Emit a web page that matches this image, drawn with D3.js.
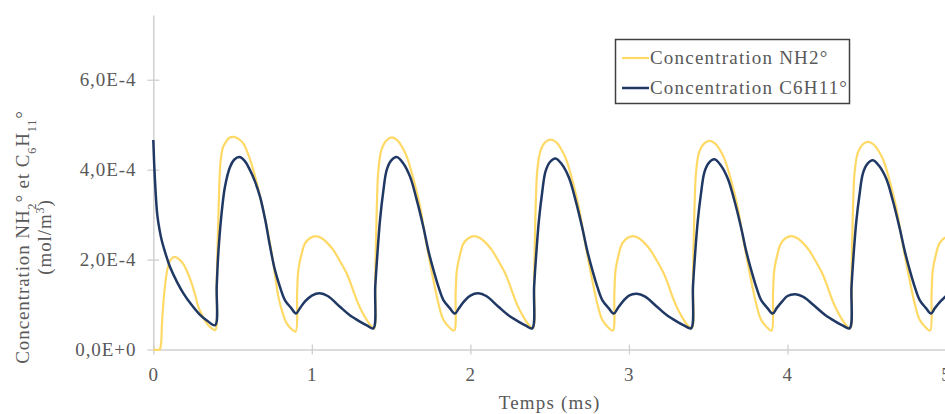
<!DOCTYPE html>
<html><head><meta charset="utf-8">
<script src="https://cdnjs.cloudflare.com/ajax/libs/d3/7.8.5/d3.min.js"></script>
<style>
html,body{margin:0;padding:0;background:#fff;overflow:hidden;}
svg{display:block;font-family:"Liberation Serif","Times New Roman",serif;}
</style></head>
<body><svg id="c" width="945" height="414"></svg>
<script>
// ---- data (concentrations in units of 1e-4 mol/m3, time in ms) ----
const seriesNames = ["Concentration NH2°", "Concentration C6H11°"];
const xTicks = [0, 1, 2, 3, 4, 5];
const yTicks = [0, 2e-4, 4e-4, 6e-4];
const yTickLabels = ["0,0E+0", "2,0E-4", "4,0E-4", "6,0E-4"];

const nh2Time = [
 0, 0.04, 0.048, 0.055, 0.065, 0.075, 0.09, 0.11, 0.137, 0.165, 0.19, 0.22, 0.242, 0.265, 0.284, 0.31, 0.337, 0.365, 0.39,
 0.40, 0.41, 0.425, 0.44, 0.46, 0.48, 0.505, 0.535, 0.568, 0.60, 0.631, 0.66, 0.694, 0.72, 0.747, 0.77, 0.789, 0.815, 0.842, 0.87, 0.897,
 0.907, 0.915, 0.935, 0.957, 0.99, 1.025, 1.06, 1.10, 1.136, 1.18, 1.22, 1.25, 1.283, 1.315, 1.346, 1.37, 1.392,
 1.40, 1.41, 1.42, 1.44, 1.47, 1.504, 1.54, 1.57, 1.60, 1.64, 1.683, 1.72, 1.767, 1.80, 1.83, 1.865, 1.897,
 1.907, 1.915, 1.935, 1.957, 1.99, 2.025, 2.06, 2.10, 2.136, 2.18, 2.22, 2.25, 2.283, 2.315, 2.346, 2.37, 2.394,
 2.402, 2.412, 2.422, 2.442, 2.472, 2.506, 2.542, 2.572, 2.602, 2.642, 2.685, 2.722, 2.769, 2.802, 2.832, 2.867, 2.898,
 2.908, 2.916, 2.936, 2.958, 2.99, 3.025, 3.06, 3.10, 3.136, 3.18, 3.22, 3.25, 3.283, 3.315, 3.346, 3.37, 3.396,
 3.404, 3.414, 3.424, 3.444, 3.474, 3.508, 3.544, 3.574, 3.604, 3.644, 3.687, 3.724, 3.771, 3.804, 3.834, 3.869, 3.899,
 3.909, 3.917, 3.937, 3.959, 3.99, 4.025, 4.06, 4.10, 4.136, 4.18, 4.22, 4.25, 4.283, 4.315, 4.346, 4.37, 4.396,
 4.404, 4.414, 4.424, 4.444, 4.474, 4.508, 4.544, 4.574, 4.604, 4.644, 4.687, 4.724, 4.771, 4.804, 4.834, 4.869, 4.899,
 4.909, 4.917, 4.937, 4.959, 4.99, 5.0
];
const nh2Value = [
 0, 0, 0.1, 0.6, 1.1, 1.45, 1.8, 2.0, 2.06, 2.0, 1.9, 1.68, 1.47, 1.2, 0.95, 0.75, 0.58, 0.48, 0.43,
 1.5, 2.88, 4.21, 4.5, 4.63, 4.71, 4.73, 4.69, 4.58, 4.33, 3.99, 3.6, 3.10, 2.65, 2.14, 1.6, 1.17, 0.82, 0.58, 0.46, 0.40,
 1.25, 1.77, 2.12, 2.36, 2.48, 2.52, 2.48, 2.36, 2.21, 1.95, 1.69, 1.42, 1.10, 0.85, 0.66, 0.54, 0.47,
 1.6, 3.2, 4.0, 4.45, 4.65, 4.72, 4.65, 4.5, 4.28, 3.8, 3.17, 2.4, 1.54, 1.0, 0.66, 0.5, 0.42,
 1.25, 1.77, 2.12, 2.36, 2.48, 2.52, 2.48, 2.36, 2.21, 1.95, 1.69, 1.42, 1.10, 0.85, 0.66, 0.54, 0.47,
 1.6, 3.2, 3.98, 4.42, 4.61, 4.67, 4.61, 4.46, 4.25, 3.78, 3.15, 2.4, 1.54, 1.0, 0.66, 0.5, 0.42,
 1.25, 1.77, 2.12, 2.36, 2.48, 2.52, 2.48, 2.36, 2.21, 1.95, 1.69, 1.42, 1.10, 0.85, 0.66, 0.54, 0.47,
 1.6, 3.2, 3.97, 4.4, 4.58, 4.64, 4.58, 4.44, 4.23, 3.77, 3.15, 2.4, 1.54, 1.0, 0.66, 0.5, 0.42,
 1.25, 1.77, 2.12, 2.36, 2.48, 2.52, 2.48, 2.36, 2.21, 1.95, 1.69, 1.42, 1.10, 0.85, 0.66, 0.54, 0.47,
 1.6, 3.2, 3.96, 4.38, 4.56, 4.62, 4.56, 4.42, 4.22, 3.76, 3.14, 2.4, 1.54, 1.0, 0.66, 0.5, 0.42,
 1.25, 1.77, 2.12, 2.36, 2.48, 2.49
];

const c6Time = [
 0, 0.01, 0.025, 0.04, 0.053, 0.08, 0.105, 0.15, 0.19, 0.24, 0.295, 0.34, 0.39,
 0.40, 0.41, 0.43, 0.452, 0.484, 0.51, 0.543, 0.575, 0.61, 0.64, 0.673, 0.705, 0.736, 0.767, 0.80, 0.83, 0.87, 0.90,
 0.925, 0.96, 1.0, 1.05, 1.10, 1.177, 1.24, 1.303, 1.35, 1.388,
 1.40, 1.415, 1.43, 1.45, 1.472, 1.50, 1.535, 1.575, 1.62, 1.66, 1.703, 1.735, 1.767, 1.80, 1.83, 1.87, 1.903,
 1.928, 1.963, 2.0, 2.05, 2.10, 2.177, 2.24, 2.303, 2.35, 2.39,
 2.402, 2.417, 2.432, 2.452, 2.474, 2.502, 2.537, 2.577, 2.622, 2.662, 2.705, 2.737, 2.769, 2.802, 2.832, 2.872, 2.905,
 2.93, 2.965, 3.0, 3.05, 3.10, 3.177, 3.24, 3.303, 3.35, 3.392,
 3.404, 3.419, 3.434, 3.454, 3.476, 3.504, 3.539, 3.579, 3.624, 3.664, 3.707, 3.739, 3.771, 3.804, 3.834, 3.874, 3.907,
 3.932, 3.967, 4.0, 4.05, 4.10, 4.177, 4.24, 4.303, 4.35, 4.392,
 4.404, 4.419, 4.434, 4.454, 4.476, 4.504, 4.539, 4.579, 4.624, 4.664, 4.707, 4.739, 4.771, 4.804, 4.834, 4.874, 4.905,
 4.93, 4.965, 5.0
];
const c6Value = [
 4.66, 3.8, 3.0, 2.65, 2.43, 2.1, 1.84, 1.5, 1.25, 1.0, 0.77, 0.64, 0.54,
 1.4, 2.14, 3.0, 3.62, 4.06, 4.22, 4.28, 4.2, 3.99, 3.75, 3.4, 2.9, 2.3, 1.77, 1.38, 1.10, 0.92, 0.80,
 0.92, 1.08, 1.20, 1.25, 1.19, 0.95, 0.76, 0.62, 0.53, 0.47,
 1.4, 2.2, 2.88, 3.5, 3.99, 4.2, 4.28, 4.15, 3.84, 3.35, 2.73, 2.2, 1.77, 1.38, 1.10, 0.92, 0.80,
 0.92, 1.08, 1.20, 1.25, 1.19, 0.95, 0.76, 0.62, 0.53, 0.47,
 1.4, 2.2, 2.86, 3.47, 3.96, 4.17, 4.25, 4.12, 3.82, 3.34, 2.72, 2.2, 1.77, 1.38, 1.10, 0.92, 0.80,
 0.92, 1.08, 1.20, 1.24, 1.18, 0.95, 0.76, 0.62, 0.53, 0.47,
 1.4, 2.2, 2.85, 3.45, 3.94, 4.15, 4.23, 4.1, 3.8, 3.33, 2.72, 2.2, 1.77, 1.38, 1.10, 0.92, 0.80,
 0.92, 1.07, 1.19, 1.23, 1.17, 0.95, 0.76, 0.62, 0.53, 0.47,
 1.4, 2.2, 2.84, 3.43, 3.92, 4.13, 4.21, 4.08, 3.79, 3.32, 2.71, 2.2, 1.77, 1.38, 1.10, 0.92, 0.80,
 0.92, 1.07, 1.19
];
const valueUnit = 1e-4;

// ---- drawing ----
const svg = d3.select("#c");
const grey = "#595959", axisCol = "#d0d0d0";
const x = d3.scaleLinear().domain([0, 5]).range([153.3, 946]);
const y = d3.scaleLinear().domain([0, 7.44e-4]).range([349.5, 15]);

const fontSize = 19, ls = "1.2px";

// axes
const gx = svg.append("g").attr("transform", `translate(0,${y(0)})`)
  .call(d3.axisBottom(x).tickValues(xTicks).tickFormat(d3.format("d")).tickSize(0).tickPadding(18));
gx.select(".domain").attr("stroke", axisCol).attr("stroke-width", 1.5);
gx.selectAll(".tick").append("line").attr("y1", -5).attr("y2", 5).attr("stroke", axisCol).attr("stroke-width", 1.3);
gx.selectAll("text").attr("fill", grey).attr("font-size", fontSize).attr("font-family", "Liberation Serif").style("letter-spacing", ls);

const gy = svg.append("g").attr("transform", `translate(${x(0)},0)`)
  .call(d3.axisLeft(y).tickValues(yTicks).tickFormat((d, i) => yTickLabels[i]).tickSize(0).tickPadding(17));
gy.select(".domain").attr("stroke", axisCol).attr("stroke-width", 1.5);
gy.selectAll(".tick").append("line").attr("x1", -6).attr("x2", 6).attr("stroke", axisCol).attr("stroke-width", 1.3);
gy.selectAll("text").attr("fill", grey).attr("font-size", fontSize).attr("font-family", "Liberation Serif").style("letter-spacing", "0.9px");

// axis titles
svg.append("text").attr("x", (x(0) + x(5)) / 2).attr("y", 409).attr("text-anchor", "middle")
  .attr("fill", grey).attr("font-size", fontSize).style("letter-spacing", ls).text("Temps (ms)");

const yt = svg.append("g").attr("transform", "translate(0,237) rotate(-90)");
const t1 = yt.append("text").attr("x", 0).attr("y", 29).attr("text-anchor", "middle")
  .attr("fill", grey).attr("font-size", fontSize).style("letter-spacing", "0.9px");
t1.append("tspan").text("Concentration NH");
t1.append("tspan").attr("baseline-shift", "sub").attr("font-size", 12).text("2");
t1.append("tspan").text("° et C");
t1.append("tspan").attr("baseline-shift", "sub").attr("font-size", 12).text("6");
t1.append("tspan").text("H");
t1.append("tspan").attr("baseline-shift", "sub").attr("font-size", 12).text("11");
t1.append("tspan").text("°");
const t2 = yt.append("text").attr("x", 0).attr("y", 51).attr("text-anchor", "middle")
  .attr("fill", grey).attr("font-size", fontSize).style("letter-spacing", "0.9px");
t2.append("tspan").text("(mol/m");
t2.append("tspan").attr("baseline-shift", "super").attr("font-size", 12).text("3");
t2.append("tspan").text(")");

// lines
const line = d3.line().x(d => x(d[0])).y(d => y(d[1] * valueUnit)).curve(d3.curveCatmullRom.alpha(0.5));
const nh2 = nh2Time.map((t, i) => [t, nh2Value[i]]);
const c6 = c6Time.map((t, i) => [t, c6Value[i]]);
const colors = ["#FFD966", "#203864"];
svg.append("path").datum(nh2).attr("d", line).attr("fill", "none").attr("stroke", colors[0]).attr("stroke-width", 2.2).attr("stroke-linejoin", "round");
svg.append("path").datum(c6).attr("d", line).attr("fill", "none").attr("stroke", colors[1]).attr("stroke-width", 2.5).attr("stroke-linejoin", "round");

// legend
const lg = svg.append("g");
lg.append("rect").attr("x", 615.5).attr("y", 39.5).attr("width", 234).attr("height", 64)
  .attr("fill", "#fff").attr("stroke", "#404040").attr("stroke-width", 1.5);
seriesNames.forEach((n, i) => {
  const cy = 58 + i * 30;
  lg.append("line").attr("x1", 622).attr("x2", 649).attr("y1", cy).attr("y2", cy)
    .attr("stroke", colors[i]).attr("stroke-width", i ? 2.5 : 2.2);
  lg.append("text").attr("x", 650).attr("y", cy + 6).attr("fill", grey).attr("font-size", fontSize)
    .style("letter-spacing", ls).text(n);
});
</script></body></html>
